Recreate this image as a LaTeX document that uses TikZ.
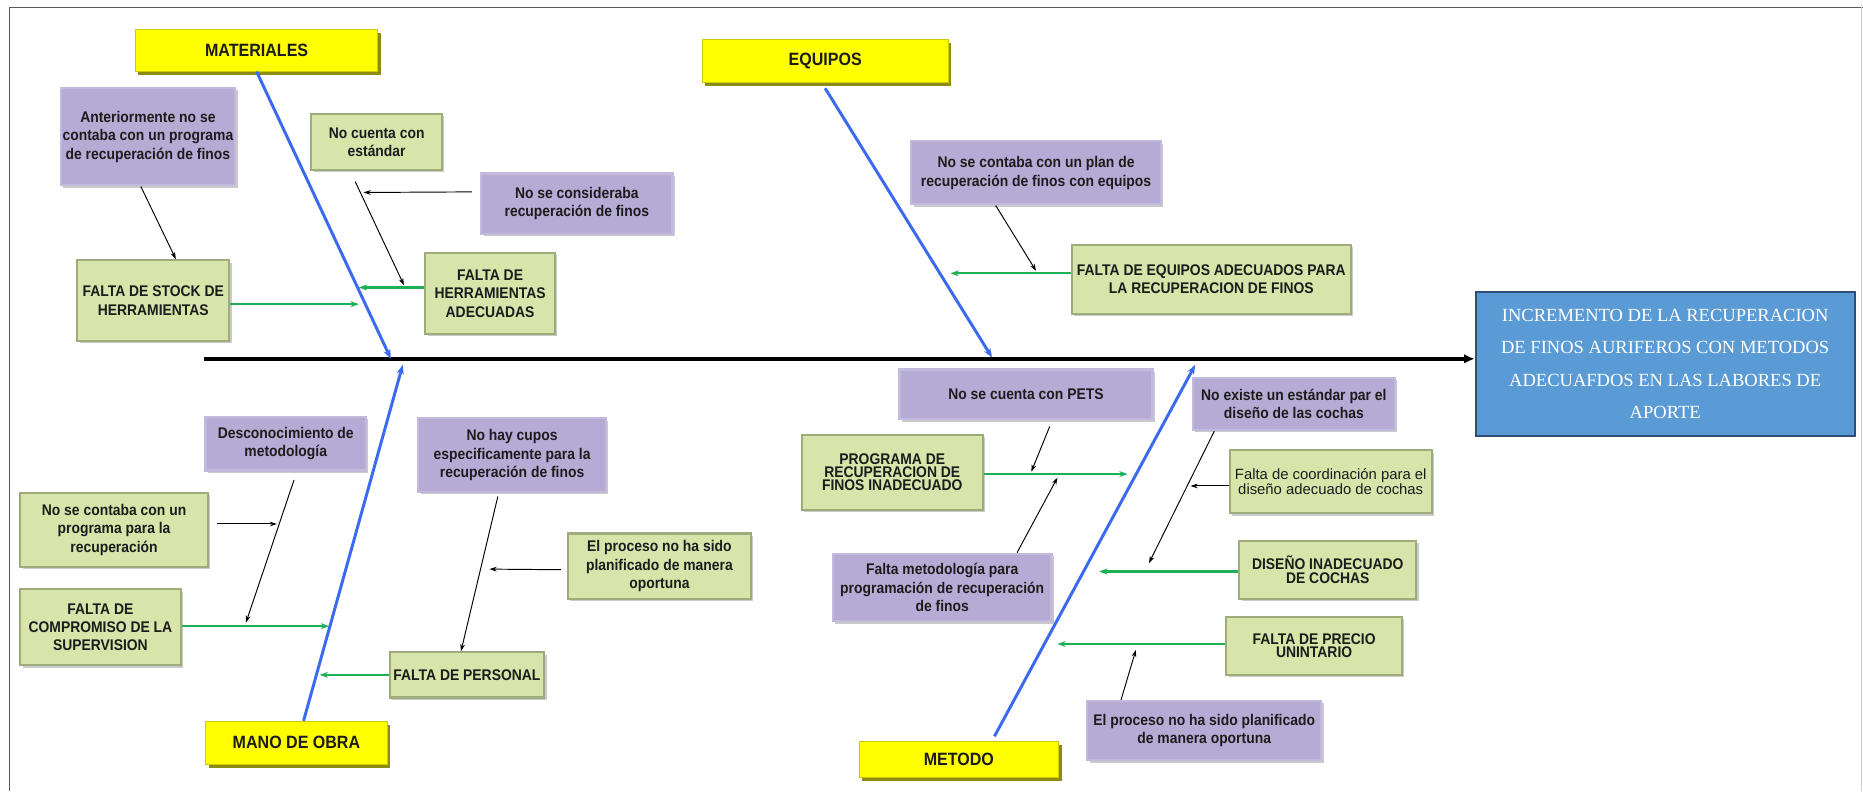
\documentclass[tikz,border=0pt]{standalone}
\usepackage{fontspec}
\setmainfont{Liberation Sans}
\newfontfamily\narrowfont{Liberation Sans}[FakeStretch=0.9]
\newfontfamily\timesfont{Liberation Serif}
\usetikzlibrary{positioning,arrows.meta,calc,shadows}

\definecolor{catyellow}{HTML}{FFFF00}
\definecolor{catedge}{HTML}{8C8C12}
\definecolor{causegreen}{HTML}{D7E4AA}
\definecolor{causeedge}{HTML}{9EAB7A}
\definecolor{subpurple}{HTML}{B5ABD5}
\definecolor{subedge}{HTML}{C2BADD}
\definecolor{effblue}{HTML}{5B9BD5}
\definecolor{effedge}{HTML}{2F4E7A}
\definecolor{boneblue}{HTML}{3A6AF0}
\definecolor{branchgreen}{HTML}{1DB055}
\definecolor{txt}{HTML}{1C1C1C}

\begin{document}
\begin{tikzpicture}[x=1pt,y=-1pt,
  cat/.style={fill=catyellow,draw=catyellow!80!black,line width=0.6pt,
    drop shadow={shadow xshift=2.5pt,shadow yshift=-3pt,fill=catedge,opacity=1},
    font=\narrowfont\bfseries\fontsize{15}{17}\selectfont,text=txt,inner sep=1pt},
  cause/.style={fill=causegreen,draw=causeedge,line width=1.8pt,
    drop shadow={shadow xshift=2pt,shadow yshift=-2pt,fill=black!35,opacity=0.6},
    align=center,text=txt,inner sep=1pt,
    font=\narrowfont\bfseries\fontsize{13}{15.5}\selectfont},
  sub/.style={cause,fill=subpurple,draw=subedge},
  tight/.style={font=\narrowfont\bfseries\fontsize{13}{11}\selectfont},
  effect/.style={fill=effblue,draw=effedge,line width=1.5pt,align=center,text=white,
    font=\timesfont\fontsize{15.6}{27.3}\selectfont},
  spine/.style={draw=black,line width=3pt,-{Latex[length=9pt,width=8pt]}},
  bone/.style={draw=boneblue,line width=2.5pt,-{Stealth[length=8pt,width=6pt]}},
  branch/.style={draw=branchgreen,line width=2pt,-{Stealth[length=7pt,width=5pt]}},
  feed/.style={draw=black,line width=0.8pt,-{Stealth[length=6pt,width=4pt]}}]
\useasboundingbox (0,0) rectangle (1568,666);
\draw[black!65,line width=1pt] (8,666) -- (8,6) -- (1568,6);
\draw[black!20,line width=0.8pt] (1567,6) -- (1567,666);

\node[cat,minimum width=204pt,minimum height=35pt] (mat) at (216,42.5) {MATERIALES};
\node[cat,minimum width=207pt,minimum height=36pt] (equ) at (694.5,51) {EQUIPOS};
\node[cat,minimum width=153pt,minimum height=36pt] (mano) at (249.5,625) {MANO DE OBRA};
\node[cat,minimum width=168pt,minimum height=30pt] (met) at (807,639) {METODO};

\node[effect,minimum width=319pt,minimum height=121pt] (efecto) at (1401.5,306.5)
  {INCREMENTO DE LA RECUPERACION\\DE FINOS AURIFEROS CON METODOS\\ADECUAFDOS EN LAS LABORES DE\\APORTE};

\node[sub,minimum width=147pt,minimum height=82pt] (ant) at (124.5,115)
  {Anteriormente no se\\contaba con un programa\\de recuperación de finos};
\node[cause,minimum width=110pt,minimum height=47pt] (estd) at (317,119.5)
  {No cuenta con\\estándar};
\node[sub,minimum width=161pt,minimum height=51pt] (cons) at (485.5,171.5)
  {No se consideraba\\recuperación de finos};
\node[cause,minimum width=109pt,minimum height=68pt] (herr) at (412.5,247)
  {FALTA DE\\HERRAMIENTAS\\ADECUADAS};
\node[cause,minimum width=128pt,minimum height=68pt] (stock) at (129,253)
  {FALTA DE STOCK DE\\HERRAMIENTAS};
\node[sub,minimum width=210pt,minimum height=53pt] (plan) at (872,145.5)
  {No se contaba con un plan de\\recuperación de finos con equipos};
\node[cause,minimum width=235pt,minimum height=58pt] (equi) at (1019.5,235)
  {FALTA DE EQUIPOS ADECUADOS PARA\\LA RECUPERACION DE FINOS};

\node[sub,minimum width=135pt,minimum height=45pt] (desc) at (240.5,373.5)
  {Desconocimiento de\\metodología};
\node[cause,minimum width=158pt,minimum height=62pt] (prog) at (96,446)
  {No se contaba con un\\programa para la\\recuperación};
\node[cause,minimum width=135pt,minimum height=64pt] (comp) at (84.5,528)
  {FALTA DE\\COMPROMISO DE LA\\SUPERVISION};
\node[sub,minimum width=158pt,minimum height=62pt] (cupos) at (431,383)
  {No hay cupos\\especificamente para la\\recuperación de finos};
\node[cause,minimum width=154pt,minimum height=55pt] (proc1) at (555,476.5)
  {El proceso no ha sido\\planificado de manera\\oportuna};
\node[cause,minimum width=130pt,minimum height=38pt] (pers) at (393,568)
  {FALTA DE PERSONAL};

\node[sub,minimum width=213pt,minimum height=42pt] (pets) at (863.5,332)
  {No se cuenta con PETS};
\node[cause,tight,minimum width=152pt,minimum height=63pt] (pinad) at (751,397.5)
  {PROGRAMA DE\\RECUPERACION DE\\FINOS INADECUADO};
\node[sub,minimum width=184pt,minimum height=57pt] (fmet) at (793,494.5)
  {Falta metodología para\\programación de recuperación\\de finos};
\node[sub,minimum width=170pt,minimum height=44pt] (noex) at (1089,340)
  {No existe un estándar par el\\diseño de las cochas};
\node[cause,minimum width=170pt,minimum height=53pt,
  font=\fontsize{12.5}{11}\selectfont] (coord) at (1120,405.5)
  {Falta de coordinación para el\\diseño adecuado de cochas};
\node[cause,tight,minimum width=149pt,minimum height=49pt] (dis) at (1117.5,479.5)
  {DISEÑO INADECUADO\\DE COCHAS};
\node[cause,tight,minimum width=148pt,minimum height=49pt] (prec) at (1106,543.5)
  {FALTA DE PRECIO\\UNINTARIO};
\node[sub,minimum width=197pt,minimum height=50pt] (proc2) at (1013.5,615)
  {El proceso no ha sido planificado\\de manera oportuna};

\coordinate (cola) at (172,302);
\coordinate (pm) at (329,302);
\coordinate (pe) at (835,301);
\coordinate (pmo) at (339,307);
\coordinate (pme) at (1006,307);
\coordinate (b1) at (302,256);
\coordinate (b2) at (302,242);
\coordinate (b3) at (800,230);
\coordinate (b4) at (277,527);
\coordinate (b5) at (269,568);
\coordinate (b6) at (949,399);
\coordinate (b7) at (925,481);
\coordinate (b8) at (890,542);
\coordinate (c1) at (340,240);
\coordinate (c2) at (306,162);
\coordinate (c3) at (872,228);
\coordinate (c4) at (207,524);
\coordinate (c5) at (233,441);
\coordinate (c6) at (412,479);
\coordinate (c7) at (868,397);
\coordinate (c8) at (890,402);
\coordinate (c9) at (967,474);
\coordinate (c10) at (1002,409);
\coordinate (c11) at (956,547);

\draw[spine] (cola) -- (cola -| efecto.west);
\draw[bone] (mat.south) -- (pm);
\draw[bone] ([yshift=-5pt]equ.south) -- (pe);
\draw[bone] ([xshift=6pt]mano.north) -- (pmo);
\draw[bone] ([xshift=30pt,yshift=4pt]met.north) -- (pme);

\draw[branch] (stock.east |- b1) -- (b1);
\draw[branch] (herr.west |- b2) -- (b2);
\draw[branch] (equi.west |- b3) -- (b3);
\draw[branch] (comp.east |- b4) -- (b4);
\draw[branch] (pers.west |- b5) -- (b5);
\draw[branch] (pinad.east |- b6) -- (b6);
\draw[branch] (dis.west |- b7) -- (b7);
\draw[branch] (prec.west |- b8) -- (b8);

\draw[feed] ([xshift=-6pt]ant.south) -- ([xshift=19pt]stock.north);
\draw[feed] ([xshift=-18pt,yshift=-9pt]estd.south) -- (c1);
\draw[feed] ([xshift=-7pt,yshift=10pt]cons.west) -- (c2);
\draw[feed] ([xshift=-34pt]plan.south) -- (c3);
\draw[feed] ([xshift=7pt,yshift=-7pt]desc.south) -- (c4);
\draw[feed] ([xshift=7pt,yshift=5pt]prog.east) -- (c5);
\draw[feed] ([xshift=-12pt,yshift=-3pt]cupos.south) -- ([xshift=-5pt]pers.north);
\draw[feed] ([xshift=-5pt,yshift=-3pt]proc1.west) -- (c6);
\draw[feed] ([xshift=20pt,yshift=-5pt]pets.south) -- (c7);
\draw[feed] ([xshift=63pt]fmet.north) -- (c8);
\draw[feed] ([xshift=-67pt]noex.south) -- (c9);
\draw[feed] ([yshift=-3.5pt]coord.west) -- (c10);
\draw[feed] ([xshift=-70pt]proc2.north) -- (c11);
\end{tikzpicture}
\end{document}
